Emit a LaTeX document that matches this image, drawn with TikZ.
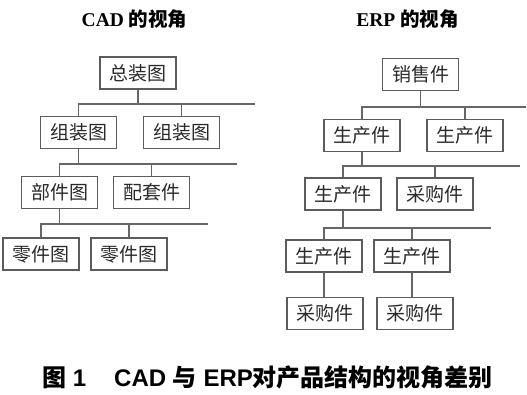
\documentclass[tikz,border=0pt]{standalone}
\usepackage{fontspec}
\setmainfont{Liberation Serif}
\newfontfamily\cjk{Noto Sans CJK SC}
\newfontfamily\capsans{Liberation Sans}
\definecolor{boxgray}{HTML}{5C5C5C}
\definecolor{linegray}{HTML}{666666}
\definecolor{txt}{HTML}{2A2A2A}
\begin{document}
\begin{tikzpicture}[x=1pt,y=1pt,
  part/.style={draw=boxgray, line width=1.4pt, minimum width=76pt, minimum height=32pt,
    inner sep=0pt, text=txt, font=\cjk\fontsize{19}{21}\selectfont},
  link/.style={draw=linegray, line width=1.4pt},
  ttl/.style={anchor=base, inner sep=0pt, text=black, font=\fontsize{19.5}{22}\selectfont\bfseries}]
\fill[white] (0,0) rectangle (527,-394);
\useasboundingbox (0,0) rectangle (527,-394);

% titles
\node[ttl] (cadtitle) at (134.5,-26) {CAD {\cjk 的视角}};
\node[ttl] (erptitle) at (407.5,-26) {ERP {\cjk 的视角}};

% CAD tree
\node[part] (A)  at (138,-73)    {总装图};
\node[part] (B1) at (78.5,-132.5) {组装图};
\node[part] (B2) at (181.5,-132.5) {组装图};
\node[part] (C1) at (59.5,-192.5) {部件图};
\node[part] (C2) at (151.5,-192.5) {配套件};
\node[part] (D1) at (41,-254)    {零件图};
\node[part] (D2) at (129,-254)   {零件图};
\coordinate (ca) at (255,-104);
\coordinate (cb) at (237,-164);
\coordinate (cc) at (208,-224);

\draw[link] (A.south) -- (A.south |- ca);
\draw[link] (B1.north) |- (ca);
\draw[link] (B2.north) -- (B2.north |- ca);
\draw[link] (B1.south) -- (B1.south |- cb);
\draw[link] (C1.north) |- (cb);
\draw[link] (C2.north) -- (C2.north |- cb);
\draw[link] (C1.south) -- (C1.south |- cc);
\draw[link] (D1.north) |- (cc);
\draw[link] (D2.north) -- (D2.north |- cc);

% ERP tree
\node[part] (E)  at (420.5,-74.5) {销售件};
\node[part] (F1) at (362,-135.5)  {生产件};
\node[part] (F2) at (465,-135.5)  {生产件};
\node[part] (G1) at (343,-194)    {生产件};
\node[part] (G2) at (435,-194)    {采购件};
\node[part] (H1) at (324,-256)    {生产件};
\node[part] (H2) at (412,-256)    {生产件};
\node[part] (I1) at (325,-313.5)  {采购件};
\node[part] (I2) at (415,-313.5)  {采购件};
\coordinate (ea) at (526,-107);
\coordinate (eb) at (520,-166);
\coordinate (ec) at (491,-228);

\draw[link] (E.south) -- (E.south |- ea);
\draw[link] (F1.north) |- (ea);
\draw[link] (F2.north) -- (F2.north |- ea);
\draw[link] (F1.south) -- (F1.south |- eb);
\draw[link] (G1.north) |- (eb);
\draw[link] (G2.north) -- (G2.north |- eb);
\draw[link] (G1.south) -- (G1.south |- ec);
\draw[link] (H1.north) |- (ec);
\draw[link] (H2.north) -- (H2.north |- ec);
\draw[link] (H1.south) -- (H1.south |- I1.north);
\draw[link] (H2.south) -- (H2.south |- I2.north);

% caption
\node[anchor=base west, inner sep=0pt, text=black,
  font=\capsans\bfseries\fontsize{24}{26}\selectfont] (cap) at (42,-386)
  {{\cjk 图} 1\hspace{28pt}CAD {\cjk 与} ERP{\cjk 对产品结构的视角差别}};
\end{tikzpicture}
\end{document}
